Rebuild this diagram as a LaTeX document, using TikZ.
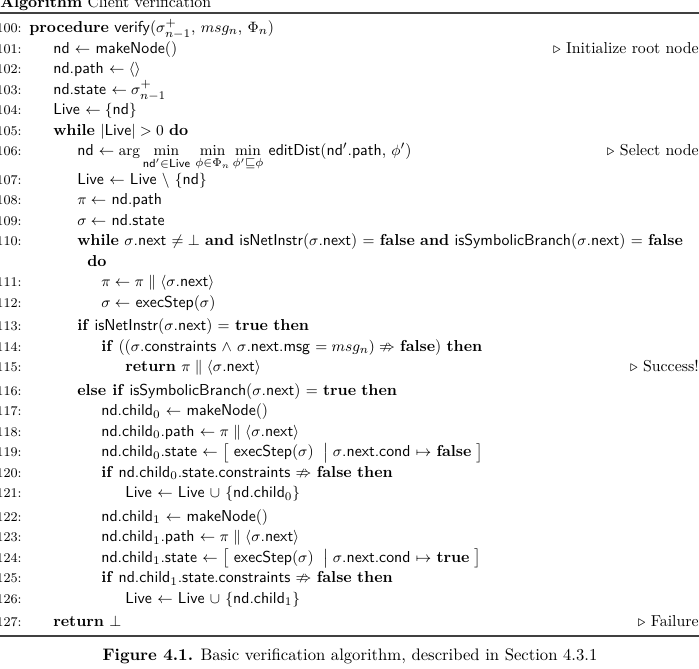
\documentclass[tikz,border=0pt]{standalone}
\usepackage{amsmath,amssymb}
\usetikzlibrary{positioning}

% keywords and identifiers
\newcommand{\kw}[1]{\textbf{#1}}
\newcommand{\fn}[1]{\textsf{#1}}
% one numbered row: name, number, indent x, baseline y, text
\newcommand{\algrow}[5]{%
  \node[lnum] (n#1) at (22,#4) {#2:};
  \node[code] (#1) at (#3,#4) {#5};}

\begin{document}
\begin{tikzpicture}[x=0.6pt, y=-0.6pt,
    lnum/.style={anchor=base east, font=\footnotesize, inner sep=0pt},
    code/.style={anchor=base west, inner sep=0pt, font=\fontsize{9.5}{11}\selectfont},
    note/.style={anchor=base east, inner sep=0pt, font=\fontsize{9.5}{11}\selectfont},
    rulethick/.style={line width=0.9pt, black!75}
]
\useasboundingbox (0,0) rectangle (699,669);

\node[code] (title) at (0,8) {\kw{Algorithm} Client verification};
\draw[rulethick] (0,13) -- (699,13);

\algrow{r100}{100}{29}{33}{\kw{procedure} \fn{verify}($\sigma^{+}_{n-1}$, $msg_n$, $\Phi_n$)}
\algrow{r101}{101}{53}{53.5}{\fn{nd} $\leftarrow$ \fn{makeNode}()}
\node[note] (c101) at (699,53.5) {$\triangleright$ Initialize root node};
\algrow{r102}{102}{53}{74}{\fn{nd.path} $\leftarrow \langle\rangle$}
\algrow{r103}{103}{53}{94.5}{\fn{nd.state} $\leftarrow \sigma^{+}_{n-1}$}
\algrow{r104}{104}{53}{115}{\fn{Live} $\leftarrow \{$\fn{nd}$\}$}
\algrow{r105}{105}{53}{135.5}{\kw{while} $|$\fn{Live}$| > 0$ \kw{do}}
\algrow{r106}{106}{77}{156}{\fn{nd} $\leftarrow \arg\min\limits_{\mathsf{nd}'\in\mathsf{Live}}\,\min\limits_{\phi\in\Phi_n}\min\limits_{\phi'\sqsubseteq\phi}$ \fn{editDist}(\fn{nd}$'$\fn{.path}, $\phi'$)}
\node[note] (c106) at (699,156) {$\triangleright$ Select node};
\algrow{r107}{107}{77}{184.5}{\fn{Live} $\leftarrow$ \fn{Live} $\setminus$ $\{$\fn{nd}$\}$}
\algrow{r108}{108}{77}{205}{$\pi \leftarrow$ \fn{nd.path}}
\algrow{r109}{109}{77}{225.5}{$\sigma \leftarrow$ \fn{nd.state}}
\algrow{r110}{110}{77}{246}{\kw{while} $\sigma$\fn{.next} $\neq \bot$ \kw{and} \fn{isNetInstr}($\sigma$\fn{.next}) $=$ \kw{false} \kw{and} \fn{isSymbolicBranch}($\sigma$\fn{.next}) $=$ \kw{false}}
\node[code] (r110do) at (87,266.5) {\kw{do}};
\algrow{r111}{111}{101}{287}{$\pi \leftarrow \pi \parallel \langle\sigma$\fn{.next}$\rangle$}
\algrow{r112}{112}{101}{307.5}{$\sigma \leftarrow$ \fn{execStep}($\sigma$)}
\algrow{r113}{113}{77}{331}{\kw{if} \fn{isNetInstr}($\sigma$\fn{.next}) $=$ \kw{true} \kw{then}}
\algrow{r114}{114}{101}{351.5}{\kw{if} (($\sigma$\fn{.constraints} $\wedge$ $\sigma$\fn{.next.msg} $= msg_n) \nRightarrow$ \kw{false}) \kw{then}}
\algrow{r115}{115}{125}{372}{\kw{return} $\pi \parallel \langle\sigma$\fn{.next}$\rangle$}
\node[note] (c115) at (699,372) {$\triangleright$ Success!};
\algrow{r116}{116}{77}{395.5}{\kw{else if} \fn{isSymbolicBranch}($\sigma$\fn{.next}) $=$ \kw{true} \kw{then}}
\algrow{r117}{117}{101}{416}{\fn{nd.child}$_0$ $\leftarrow$ \fn{makeNode}()}
\algrow{r118}{118}{101}{436.5}{\fn{nd.child}$_0$\fn{.path} $\leftarrow \pi \parallel \langle\sigma$\fn{.next}$\rangle$}
\algrow{r119}{119}{101}{457}{\fn{nd.child}$_0$\fn{.state} $\leftarrow \big[$ \fn{execStep}($\sigma$) $\;\big|\; \sigma$\fn{.next.cond} $\mapsto$ \kw{false} $\big]$}
\algrow{r120}{120}{101}{477.5}{\kw{if} \fn{nd.child}$_0$\fn{.state.constraints} $\nRightarrow$ \kw{false} \kw{then}}
\algrow{r121}{121}{125}{498}{\fn{Live} $\leftarrow$ \fn{Live} $\cup$ $\{$\fn{nd.child}$_0\}$}
\algrow{r122}{122}{101}{521.5}{\fn{nd.child}$_1$ $\leftarrow$ \fn{makeNode}()}
\algrow{r123}{123}{101}{542}{\fn{nd.child}$_1$\fn{.path} $\leftarrow \pi \parallel \langle\sigma$\fn{.next}$\rangle$}
\algrow{r124}{124}{101}{562.5}{\fn{nd.child}$_1$\fn{.state} $\leftarrow \big[$ \fn{execStep}($\sigma$) $\;\big|\; \sigma$\fn{.next.cond} $\mapsto$ \kw{true} $\big]$}
\algrow{r125}{125}{101}{583}{\kw{if} \fn{nd.child}$_1$\fn{.state.constraints} $\nRightarrow$ \kw{false} \kw{then}}
\algrow{r126}{126}{125}{603.5}{\fn{Live} $\leftarrow$ \fn{Live} $\cup$ $\{$\fn{nd.child}$_1\}$}
\algrow{r127}{127}{53}{627}{\kw{return} $\bot$}
\node[note] (c127) at (699,627) {$\triangleright$ Failure};

\draw[rulethick] (0,636) -- (699,636);
\node[anchor=base] (caption) at (350,661) {\kw{Figure 4.1.} Basic verification algorithm, described in Section 4.3.1};
\end{tikzpicture}
\end{document}
